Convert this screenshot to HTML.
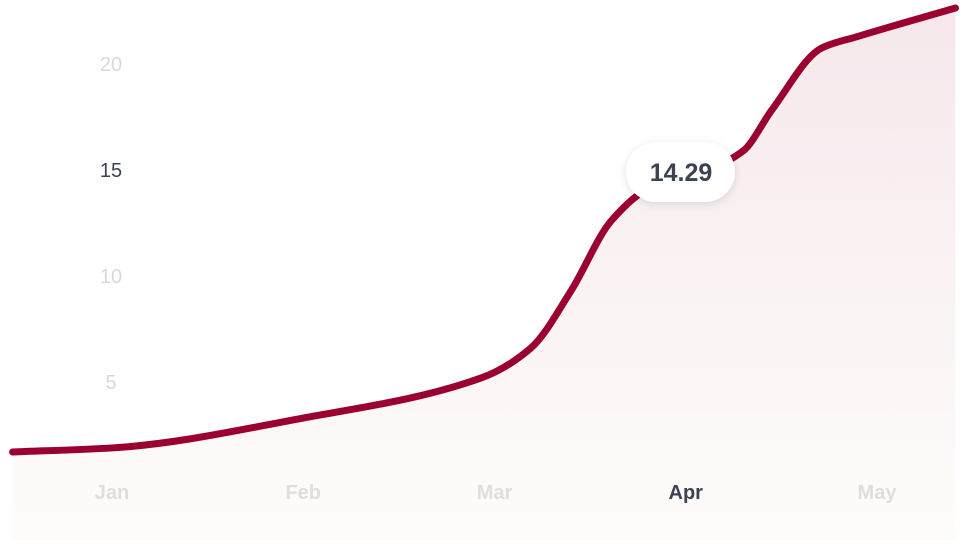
<!DOCTYPE html>
<html><head><meta charset="utf-8"><style>
body{margin:0;background:#fff;font-family:"Liberation Sans",sans-serif}
svg{display:block}
</style></head><body>
<svg id="chart" width="966" height="558">
<defs>
<linearGradient id="fillg" x1="0" y1="0" x2="0" y2="1">
<stop offset="0" stop-color="#f1dbe1" stop-opacity="0.65"/>
<stop offset="1" stop-color="#fdfaf7" stop-opacity="0.6"/>
</linearGradient>
<filter id="sh" x="-30%" y="-50%" width="160%" height="200%"><feDropShadow dx="0" dy="2" stdDeviation="4" flood-color="#000" flood-opacity="0.12"/></filter>
</defs>
<g id="plot"></g><g id="yaxis"></g><g id="xaxis"></g><g id="tip"></g>
</svg>
<script>
const months=["Jan","Feb","Mar","Apr","May"];
const activeMonth="Apr";
const yTicks=[5,10,15,20];
const activeTick=15;
const pointX=[-0.52,0,1,1.93,2.19,2.40,2.61,2.81,3.08,3.30,3.45,3.71,3.90,4.41];
const pointY=[1.7,1.89,3.3,5.19,6.6,9.3,12.6,14.15,14.9,15.9,17.83,20.75,21.3,22.64];
const tipX=2.97, tipValue=14.29, tipLabel="14.29";
const NS="http://www.w3.org/2000/svg";
const xs=v=>112+v*191.25, ys=v=>488-v*21.2;
function mk(t,a,p){const e=document.createElementNS(NS,t);for(const k in a)e.setAttribute(k,a[k]);p.appendChild(e);return e;}
const ya=document.getElementById('yaxis'),xa=document.getElementById('xaxis'),pl=document.getElementById('plot'),tp=document.getElementById('tip');
yTicks.forEach(v=>{const t=mk('text',{x:111,y:ys(v)+7,'text-anchor':'middle','font-size':20,fill:v===activeTick?'#3b4252':'#d9d9d9'},ya);t.textContent=v;

});
months.forEach((m,i)=>{const t=mk('text',{x:xs(i),y:499,'text-anchor':'middle','font-size':20,'font-weight':'bold',fill:m===activeMonth?'#3b4252':'#dedede'},xa);t.textContent=m;

});
const P=pointX.map((x,i)=>[xs(x),ys(pointY[i])]);
const n=P.length,dx=[],sl=[],m=[];
for(let i=0;i<n-1;i++){dx[i]=P[i+1][0]-P[i][0];sl[i]=(P[i+1][1]-P[i][1])/dx[i];}
m[0]=sl[0];m[n-1]=sl[n-2];
for(let i=1;i<n-1;i++){if(sl[i-1]*sl[i]<=0)m[i]=0;else{const w1=2*dx[i]+dx[i-1],w2=dx[i]+2*dx[i-1];m[i]=(w1+w2)/(w1/sl[i-1]+w2/sl[i]);}}
let d='M'+P[0][0]+','+P[0][1];
for(let i=0;i<n-1;i++){const h=dx[i]/3;d+=` C${P[i][0]+h},${P[i][1]+m[i]*h} ${P[i+1][0]-h},${P[i+1][1]-m[i+1]*h} ${P[i+1][0]},${P[i+1][1]}`;}
const last=P[n-1];
const area=mk('path',{d:d+` L${last[0]},540 L${P[0][0]},540 Z`,fill:'url(#fillg)'},pl);


const line=mk('path',{d:d,fill:'none',stroke:'#9a0030','stroke-width':7,'stroke-linecap':'round','stroke-linejoin':'round'},pl);


const cx=xs(tipX), cy=172;
const g=mk('g',{},tp);


mk('rect',{x:cx-54,y:cy-30,width:109,height:60,rx:30,fill:'#fff',filter:'url(#sh)'},g);
const tt=mk('text',{x:cx+1,y:cy+9,'text-anchor':'middle','font-size':25,'font-weight':'bold',fill:'#3b4252'},g);tt.textContent=tipLabel;
</script>
</body></html>
